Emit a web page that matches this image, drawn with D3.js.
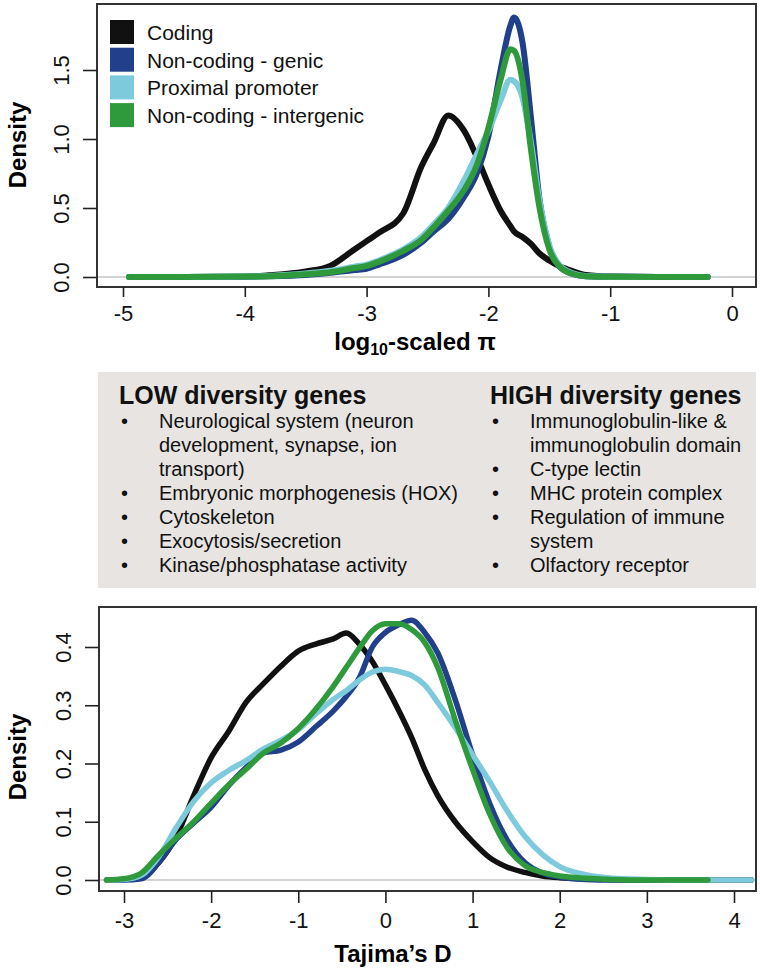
<!DOCTYPE html>
<html>
<head>
<meta charset="utf-8">
<script src="https://cdn.jsdelivr.net/npm/d3@7"></script>
<style>
  body { margin: 0; background: #fff; }
  svg { font-family: "Liberation Sans", Arial, Helvetica, sans-serif; }
  .tick text { fill: #111; }
  .tick line { stroke: #222; stroke-width: 1.6; }
</style>
</head>
<body>
<div class="chart"></div>
<script>
// ---- data ----
var categories = ["Coding", "Non-coding - genic", "Proximal promoter", "Non-coding - intergenic"];

// log10-scaled pi densities
var piX          = [-4.95, -4.5, -4, -3.8, -3.5, -3.3, -3.1, -3.0, -2.9, -2.7, -2.55, -2.45, -2.33, -2.2, -2.1, -2.0, -1.9, -1.82, -1.79, -1.72, -1.65, -1.58, -1.5, -1.42, -1.3, -1.2, -1.0, -0.6, -0.2];
var piCoding     = [0, 0, 0.002, 0.012, 0.04, 0.08, 0.2, 0.26, 0.32, 0.46, 0.8, 0.97, 1.17, 1.06, 0.88, 0.67, 0.48, 0.37, 0.33, 0.29, 0.24, 0.17, 0.12, 0.08, 0.04, 0.015, 0.003, 0, 0];
var piGenic      = [0, 0, 0.002, 0.005, 0.015, 0.03, 0.05, 0.06, 0.09, 0.16, 0.25, 0.33, 0.42, 0.58, 0.74, 1.02, 1.5, 1.82, 1.88, 1.7, 1.15, 0.56, 0.22, 0.08, 0.02, 0.005, 0.001, 0, 0];
var piPromoter   = [0, 0, 0.003, 0.008, 0.025, 0.045, 0.075, 0.09, 0.12, 0.2, 0.29, 0.38, 0.5, 0.7, 0.88, 1.06, 1.28, 1.43, 1.42, 1.3, 0.97, 0.55, 0.23, 0.09, 0.025, 0.007, 0.001, 0, 0];
var piIntergenic = [0, 0, 0.003, 0.006, 0.02, 0.035, 0.065, 0.08, 0.11, 0.19, 0.27, 0.36, 0.48, 0.63, 0.8, 1.08, 1.43, 1.65, 1.64, 1.42, 0.92, 0.5, 0.2, 0.08, 0.02, 0.006, 0.001, 0, 0];
var piTicksX = [-5, -4, -3, -2, -1, 0];
var piTicksY = [0, 0.5, 1.0, 1.5];

// Tajima's D densities (null = curve not drawn there)
var tajX          = [-3.2, -3.0, -2.8, -2.6, -2.4, -2.2, -2.0, -1.8, -1.6, -1.4, -1.2, -1.0, -0.8, -0.6, -0.45, -0.3, -0.15, 0, 0.15, 0.3, 0.45, 0.6, 0.8, 1.0, 1.2, 1.4, 1.6, 1.8, 2.0, 2.3, 2.6, 3.0, 3.4, 3.7, 4.2];
var tajCoding     = [0, 0.001, 0.005, 0.03, 0.075, 0.145, 0.21, 0.255, 0.305, 0.337, 0.367, 0.393, 0.405, 0.414, 0.424, 0.405, 0.375, 0.335, 0.292, 0.245, 0.19, 0.145, 0.1, 0.066, 0.038, 0.022, 0.013, 0.007, 0.004, 0.002, 0.001, 0, 0, 0, 0];
var tajGenic      = [0, 0, 0.002, 0.03, 0.07, 0.098, 0.125, 0.162, 0.193, 0.218, 0.223, 0.237, 0.263, 0.29, 0.315, 0.347, 0.4, 0.425, 0.438, 0.446, 0.425, 0.39, 0.31, 0.215, 0.13, 0.068, 0.03, 0.012, 0.005, 0.001, 0, 0, 0, 0, null];
var tajPromoter   = [0, 0.001, 0.008, 0.04, 0.09, 0.135, 0.167, 0.188, 0.205, 0.225, 0.24, 0.258, 0.285, 0.31, 0.325, 0.343, 0.357, 0.362, 0.358, 0.351, 0.335, 0.305, 0.262, 0.215, 0.168, 0.118, 0.075, 0.044, 0.023, 0.009, 0.003, 0.001, 0, 0, 0];
var tajIntergenic = [0, 0.002, 0.012, 0.043, 0.072, 0.1, 0.132, 0.163, 0.19, 0.218, 0.235, 0.26, 0.293, 0.332, 0.365, 0.398, 0.428, 0.44, 0.44, 0.43, 0.408, 0.365, 0.275, 0.19, 0.112, 0.055, 0.025, 0.013, 0.007, 0.003, 0.001, 0, 0, 0, null];
var tajTicksX = [-3, -2, -1, 0, 1, 2, 3, 4];
var tajTicksY = [0, 0.1, 0.2, 0.3, 0.4];

// middle panel text
var lowTitle = "LOW diversity genes";
var lowItems = [["Neurological system (neuron", "development, synapse, ion", "transport)"],
  ["Embryonic morphogenesis (HOX)"], ["Cytoskeleton"], ["Exocytosis/secretion"], ["Kinase/phosphatase activity"]];
var highTitle = "HIGH diversity genes";
var highItems = [["Immunoglobulin-like &", "immunoglobulin domain"], ["C-type lectin"],
  ["MHC protein complex"], ["Regulation of immune", "system"], ["Olfactory receptor"]];

// ---- styles ----
var colors = ["#111111", "#213f8b", "#7ccadc", "#2f9a3b"];

var svg = d3.select(".chart")
  .append("svg")
  .attr("width", 760)
  .attr("height", 974);

// draws one density panel; box = plot frame in page pixels
function densityPanel(opt) {
  var g = svg.append("g");
  var x = d3.scaleLinear().domain(opt.xDomain).range(opt.xRange);
  var y = d3.scaleLinear().domain(opt.yDomain).range(opt.yRange);

  // zero line
  g.append("line")
    .attr("x1", opt.box.left).attr("x2", opt.box.right)
    .attr("y1", y(0)).attr("y2", y(0))
    .attr("stroke", "#c4c4c4").attr("stroke-width", 1.5);

  var line = d3.line()
    .defined(d => d[1] !== null)
    .x(d => x(d[0]))
    .y(d => y(d[1]))
    .curve(d3.curveMonotoneX);

  opt.series.forEach(function(vals, i) {
    g.append("path")
      .datum(opt.xs.map((v, j) => [v, vals[j]]))
      .attr("d", line)
      .attr("fill", "none")
      .attr("stroke", colors[i])
      .attr("stroke-width", opt.lw)
      .attr("stroke-linecap", "round")
      .attr("stroke-linejoin", "round");
  });

  // frame
  g.append("rect")
    .attr("x", opt.box.left).attr("y", opt.box.top)
    .attr("width", opt.box.right - opt.box.left)
    .attr("height", opt.box.bottom - opt.box.top)
    .attr("fill", "none").attr("stroke", "#333").attr("stroke-width", 2);

  var xAxis = g.append("g")
    .attr("transform", `translate(0, ${opt.box.bottom})`)
    .call(d3.axisBottom(x).tickValues(opt.ticksX).tickFormat(d3.format("d"))
      .tickSize(opt.tickX).tickSizeOuter(0).tickPadding(opt.padX));
  xAxis.select(".domain").remove();
  xAxis.selectAll("text").attr("font-size", 22).text(d => String(d));

  var yAxis = g.append("g")
    .attr("transform", `translate(${opt.box.left}, 0)`)
    .call(d3.axisLeft(y).tickValues(opt.ticksY).tickFormat(d3.format(".1f"))
      .tickSize(14).tickSizeOuter(0));
  yAxis.select(".domain").remove();
  yAxis.selectAll("text")
    .attr("font-size", 22)
    .attr("x", null).attr("dy", null)
    .attr("text-anchor", "middle")
    .attr("transform", "translate(-28,0) rotate(-90)");

  // axis title
  g.append("text")
    .attr("transform", `translate(26, ${opt.yTitleY}) rotate(-90)`)
    .attr("text-anchor", "middle")
    .attr("font-size", 24).attr("font-weight", "bold")
    .text("Density");

  return g;
}

// top panel: log10 pi
var topPanel = densityPanel({
  box: {left: 97, top: 4, right: 756, bottom: 287},
  xDomain: [-5, 0], xRange: [123, 732],
  yDomain: [0, 1.5], yRange: [277, 70],
  xs: piX, series: [piCoding, piGenic, piPromoter, piIntergenic],
  ticksX: piTicksX, ticksY: piTicksY,
  tickX: 10, padX: 8, lw: 6, yTitleY: 145
});

var xt = topPanel.append("text")
  .attr("x", 415).attr("y", 350)
  .attr("text-anchor", "middle")
  .attr("font-size", 24).attr("font-weight", "bold");
xt.append("tspan").text("log");
xt.append("tspan").attr("font-size", 16).attr("dy", 5).text("10");
xt.append("tspan").attr("dy", -5).text("-scaled \u03c0");

// legend
var legend = topPanel.append("g");
categories.forEach(function(c, i) {
  legend.append("rect")
    .attr("x", 110).attr("y", 20 + i * 27.7)
    .attr("width", 24).attr("height", 24)
    .attr("fill", colors[i]);
  legend.append("text")
    .attr("x", 147).attr("y", 40 + i * 27.7)
    .attr("font-size", 21).attr("fill", "#111")
    .text(c);
});

// middle gene panel
var mid = svg.append("g");
mid.append("rect")
  .attr("x", 98).attr("y", 372)
  .attr("width", 658).attr("height", 216)
  .attr("fill", "#e7e4e1");

function geneColumn(x0, title, items) {
  mid.append("text")
    .attr("x", x0).attr("y", 404)
    .attr("font-size", 25).attr("font-weight", "bold").attr("fill", "#111")
    .text(title);
  var row = 0;
  items.forEach(function(lines) {
    mid.append("text")
      .attr("x", x0 + 2).attr("y", 428 + row * 24)
      .attr("font-size", 20).attr("fill", "#111")
      .text("\u2022");
    lines.forEach(function(l) {
      mid.append("text")
        .attr("x", x0 + 40).attr("y", 428 + row * 24)
        .attr("font-size", 20).attr("fill", "#111")
        .text(l);
      row++;
    });
  });
}
geneColumn(119, lowTitle, lowItems);
geneColumn(490, highTitle, highItems);

// bottom panel: Tajima's D
var bottomPanel = densityPanel({
  box: {left: 99, top: 607, right: 756, bottom: 891},
  xDomain: [-3, 4], xRange: [124, 734],
  yDomain: [0, 0.4], yRange: [880, 647],
  xs: tajX, series: [tajCoding, tajGenic, tajPromoter, tajIntergenic],
  ticksX: tajTicksX, ticksY: tajTicksY,
  tickX: 12, padX: 9, lw: 5.5, yTitleY: 757
});

bottomPanel.append("text")
  .attr("x", 393).attr("y", 962)
  .attr("text-anchor", "middle")
  .attr("font-size", 24).attr("font-weight", "bold")
  .text("Tajima\u2019s D");
</script>
</body>
</html>
